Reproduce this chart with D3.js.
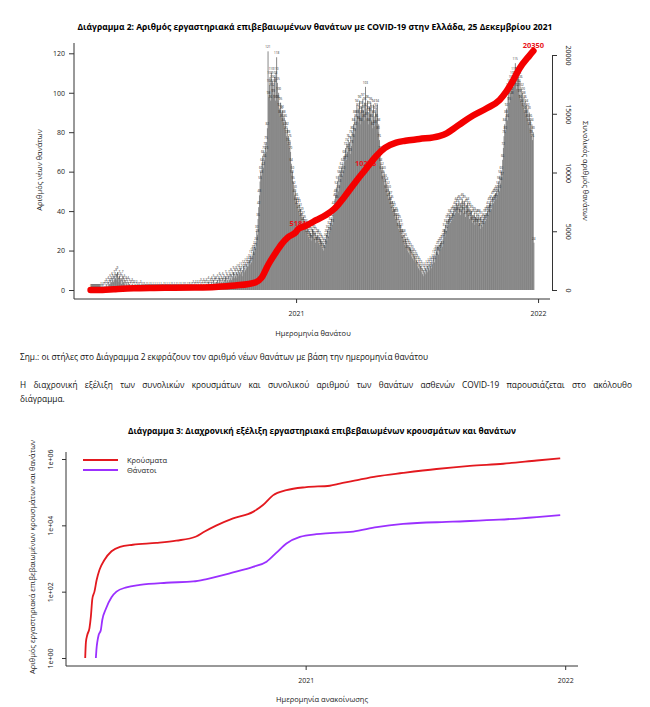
<!DOCTYPE html>
<html>
<head>
<meta charset="utf-8">
<script src="https://cdn.jsdelivr.net/npm/d3@7"></script>
<style>
  body { margin: 0; background: #fff; }
  svg text { font-family: "Open Sans", "Noto Sans", sans-serif; }
</style>
</head>
<body>
<div id="container"></div>
<script>
/* CONSTANTS AND GLOBALS */
const width = 650, height = 707;
const parseDate = d3.utcParse("%Y-%m-%d");

/* DATA */
// chart 2: daily new deaths by date of death, one value per day from barStart
const barStart = "2020-02-26";
const deaths2020 = [
  0,0,0,0, // Feb 26-29
  0,0,0,0,0,0,0,0,0,0,0,1,0,1,0,1,1,2,1,3,2,1,4,2,3,5,3,4,6,5,4, // Mar
  7,5,6,8,5,9,6,4,7,5,6,3,5,7,4,3,5,2,4,3,2,4,1,3,2,1,2,3,1,2, // Apr
  1,2,0,1,2,1,0,1,1,0,2,1,0,1,0,1,1,0,0,1,0,1,0,0,1,0,1,0,0,1,0, // May
  0,1,0,0,1,0,0,1,0,0,1,0,0,0,1,0,1,0,0,1,0,0,1,0,0,1,0,1,0,0, // Jun
  1,0,0,1,0,1,0,0,1,0,1,0,0,1,0,1,0,1,0,0,1,0,1,1,0,1,0,1,2,0,1, // Jul
  1,2,0,1,2,1,0,2,1,3,1,2,1,3,2,1,2,3,1,2,4,2,1,3,2,4,3,2,5,3,4, // Aug
  3,4,2,5,3,4,6,3,5,4,3,6,4,5,3,7,4,6,5,4,7,5,6,8,5,7,6,9,6,8, // Sep
  7,9,6,8,10,7,9,8,11,9,7,10,12,9,11,10,13,11,12,14,12,15,13,17,14,18,16,20,19,22,21, // Oct
  24,30,28,36,42,48,55,60,58,64,68,62,70,66,72,75,70,82,121,98,104,108,96,110,102,106,99,104,108,96, // Nov
  110,118,105,96,100,92,88,95,90,86,91,84,88,82,86,80,78,82,74,78,72,76,70,64,58,60,55,52,48,50,44 // Dec
];
const deaths2021 = [
  46,42,44,40,43,38,41,36,39,34,37,33,35,31,33,30,28,32,27,30,26,29,25,28,31,27,30,26,29,24,27, // Jan
  25,28,24,27,23,26,22,25,21,24,20,23,22,26,28,25,30,27,32,29,34,31,36,33,38,42,40,46, // Feb
  48,52,45,55,50,58,53,60,56,62,58,64,60,68,65,72,66,74,70,76,71,75,69,78,73,80,76,84,79,88,82, // Mar
  86,94,88,92,85,96,90,84,93,88,97,91,86,95,103,92,87,96,90,84,93,89,95,86,91,82,94,88,83,90, // Apr
  92,86,94,80,84,76,70,64,60,62,58,55,60,53,56,50,54,48,52,46,50,44,47,42,45,40,42,38,41,36,39, // May
  38,34,36,31,35,30,33,28,31,27,25,28,23,26,22,24,20,23,19,22,18,21,17,20,16,18,15,17,14,16, // Jun
  15,12,14,11,13,10,12,9,11,8,10,7,9,11,8,10,12,9,11,13,10,12,14,11,13,15,17,14,18,16,20, // Jul
  19,22,18,23,20,24,21,25,22,26,28,31,27,33,30,35,32,36,33,38,34,37,35,39,36,40,38,42,39,44,41, // Aug
  43,39,45,41,38,44,40,46,42,39,45,41,37,43,40,44,38,42,36,41,37,40,34,38,35,39,33,37,34,38, // Sep
  36,33,38,34,31,37,33,35,32,36,34,38,35,39,36,40,42,38,44,40,45,41,43,47,44,48,45,49,46,50,48, // Oct
  52,55,50,58,54,60,57,66,72,78,84,80,88,92,86,98,102,95,104,100,106,98,108,103,110,105,115,108,102,110, // Nov
  104,108,99,106,96,102,94,100,92,98,90,96,88,94,86,92,84,90,82,86,78,84,76,80,24 // Dec 1-25
];

// chart 2: total deaths (red line, right axis)
const totalDates = ["2020-02-26","2020-03-15","2020-04-01","2020-05-01","2020-06-01","2020-07-01","2020-08-01",
  "2020-09-01","2020-10-01","2020-11-01","2020-11-10","2020-11-20","2020-12-01","2020-12-10","2020-12-20",
  "2021-01-01","2021-01-04","2021-01-15","2021-02-01","2021-02-15","2021-03-01","2021-03-15","2021-04-01",
  "2021-04-16","2021-05-01","2021-05-15","2021-06-01","2021-06-15","2021-07-06","2021-08-05","2021-08-16",
  "2021-08-26","2021-09-10","2021-09-25","2021-10-15","2021-11-04","2021-11-14","2021-11-24","2021-12-04",
  "2021-12-19","2021-12-25"];
const totalValues = [0,5,60,145,175,190,210,260,380,650,1050,2150,3150,3900,4500,4950,5181,5450,5960,6380,
  6980,7940,9220,10276,11340,12100,12550,12700,12850,13100,13330,13700,14300,14850,15450,16170,16880,17800,
  18850,19950,20350];
const totalLabelDates = ["2021-01-04","2021-04-16","2021-12-25"];
const totalLabels = [5181, 10276, 20350];

const leftTicks = [0, 20, 40, 60, 80, 100, 120];
const rightTicks = [0, 5000, 10000, 15000, 20000];
const yearTicks = ["2021-01-01", "2022-01-01"];
const yearLabels = ["2021", "2022"];

// chart 3: cumulative cases and deaths by announcement date (log scale)
const caseDates = ["2020-02-26","2020-02-27","2020-02-29","2020-03-03","2020-03-05","2020-03-07","2020-03-10",
  "2020-03-13","2020-03-17","2020-03-24","2020-04-03","2020-04-15","2020-05-03","2020-06-05","2020-07-03",
  "2020-07-31","2020-08-12","2020-08-28","2020-09-21","2020-10-19","2020-11-02","2020-11-16","2020-12-05",
  "2021-01-02","2021-02-04","2021-02-18","2021-03-18","2021-04-11","2021-05-18","2021-07-04","2021-08-20",
  "2021-10-06","2021-11-22","2021-12-25"];
const caseValues = [1,3,5,8,18,60,100,220,450,900,1650,2250,2600,2950,3450,4600,6500,9800,16200,25500,41000,
  80000,115000,142000,156000,180000,240000,300000,380000,500000,620000,720000,900000,1050000];
const deathDates = ["2020-03-12","2020-03-13","2020-03-14","2020-03-16","2020-03-19","2020-03-21","2020-03-26",
  "2020-04-03","2020-04-10","2020-04-24","2020-05-13","2020-06-19","2020-07-27","2020-08-15","2020-09-21",
  "2020-10-19","2020-11-07","2020-11-21","2020-12-05","2020-12-24","2021-01-16","2021-02-04","2021-03-09",
  "2021-04-11","2021-05-18","2021-07-27","2021-09-30","2021-11-22","2021-12-25"];
const deathValues = [1,2,3,5,7,14,30,68,100,135,160,186,203,240,380,560,800,1500,2850,4500,5400,5800,6450,
  8800,11000,12900,14800,17800,20350];
const logTicks = [1, 100, 10000, 1000000];
const logLabels = ["1e+00", "1e+02", "1e+04", "1e+06"];
const seriesNames = ["Κρούσματα", "Θάνατοι"];

/* TEXTS */
const title2 = "Διάγραμμα 2: Αριθμός εργαστηριακά επιβεβαιωμένων θανάτων με COVID-19 στην Ελλάδα, 25 Δεκεμβρίου 2021";
const note = "Σημ.: οι στήλες στο Διάγραμμα 2 εκφράζουν τον αριθμό νέων θανάτων με βάση την ημερομηνία θανάτου";
const para1 = "Η διαχρονική εξέλιξη των συνολικών κρουσμάτων και συνολικού αριθμού των θανάτων ασθενών COVID-19 παρουσιάζεται στο ακόλουθο";
const para2 = "διάγραμμα.";
const title3 = "Διάγραμμα 3: Διαχρονική εξέλιξη εργαστηριακά επιβεβαιωμένων κρουσμάτων και θανάτων";

const svg = d3.select("#container").append("svg")
  .attr("width", width)
  .attr("height", height)
  .style("background-color", "#fff");

const axisColor = "#333";

/* ---------- CHART 2 ---------- */
const daily = deaths2020.concat(deaths2021).map((v, i) => ({
  date: d3.utcDay.offset(parseDate(barStart), i), value: v
}));

const x1 = d3.scaleUtc()
  .domain([parseDate("2020-02-01"), parseDate("2022-01-19")])
  .range([74, 550]);
const y1 = d3.scaleLinear().domain([0, 120]).range([290, 53.3]);
const y1r = d3.scaleLinear().domain([0, 20000]).range([290, 55]);

svg.append("text")
  .attr("x", 315).attr("y", 30)
  .attr("text-anchor", "middle")
  .attr("font-size", 9.5).attr("font-weight", "bold")
  .attr("textLength", 475).attr("lengthAdjust", "spacingAndGlyphs")
  .text(title2);

const dayW = x1(parseDate("2021-01-02")) - x1(parseDate("2021-01-01"));

// bars
svg.append("g").selectAll("rect")
  .data(daily)
  .join("rect")
  .attr("x", d => x1(d.date))
  .attr("y", d => y1(d.value))
  .attr("width", dayW + 0.25)
  .attr("height", d => y1(0) - y1(d.value))
  .attr("fill", "#7d7d7d");

// tiny value labels over every bar
svg.append("g").selectAll("text")
  .data(daily)
  .join("text")
  .attr("x", d => x1(d.date) + dayW / 2)
  .attr("y", d => y1(d.value) - 3)
  .attr("text-anchor", "middle")
  .attr("font-size", 3)
  .attr("fill", "#222")
  .text(d => d.value);

// red labels on the total line
svg.append("g").selectAll("text")
  .data(totalLabels)
  .join("text")
  .attr("x", (d, i) => x1(parseDate(totalLabelDates[i])))
  .attr("y", d => y1r(d) - 3)
  .attr("text-anchor", "middle")
  .attr("font-size", 7.5).attr("font-weight", "bold")
  .attr("fill", "#e8141a")
  .text(d => d);

// total deaths line
const totalLine = d3.line()
  .x((d, i) => x1(parseDate(totalDates[i])))
  .y(d => y1r(d))
  .curve(d3.curveMonotoneX);

svg.append("path")
  .attr("d", totalLine(totalValues))
  .attr("fill", "none")
  .attr("stroke", "#f40000")
  .attr("stroke-width", 6.5)
  .attr("stroke-linecap", "round")
  .attr("stroke-linejoin", "round");

// L box
svg.append("path")
  .attr("d", `M74,43V299H550`)
  .attr("fill", "none").attr("stroke", axisColor).attr("stroke-width", 1);

// left axis
const gL = svg.append("g")
  .attr("transform", "translate(74,0)")
  .call(d3.axisLeft(y1).tickValues(leftTicks).tickSize(5).tickPadding(4));
gL.select(".domain").remove();

// right axis
const gR = svg.append("g")
  .attr("transform", "translate(552,0)")
  .call(d3.axisRight(y1r).tickValues(rightTicks).tickSize(5).tickSizeOuter(0).tickFormat(d3.format("d")));
gR.selectAll(".tick text")
  .attr("x", 0).attr("dy", null)
  .attr("text-anchor", "middle")
  .attr("transform", "translate(14,0) rotate(90)");

// bottom axis
const gB = svg.append("g")
  .attr("transform", "translate(0,299)")
  .call(d3.axisBottom(x1).tickValues(yearTicks.map(parseDate)).tickSize(4).tickPadding(8)
    .tickFormat((d, i) => yearLabels[i]));
gB.select(".domain").remove();

[gL, gR, gB].forEach(g => {
  g.selectAll("line, path").attr("stroke", axisColor);
  g.selectAll("text").attr("font-size", 7).attr("fill", "#222")
    .style("font-family", '"Open Sans", sans-serif');
});

svg.append("text")
  .attr("transform", "translate(42,170) rotate(-90)")
  .attr("text-anchor", "middle").attr("font-size", 7.5).attr("fill", "#222")
  .text("Αριθμός νέων θανάτων");
svg.append("text")
  .attr("transform", "translate(583,171) rotate(90)")
  .attr("text-anchor", "middle").attr("font-size", 7.5).attr("fill", "#222")
  .text("Συνολικός αριθμός θανάτων");
svg.append("text")
  .attr("x", 313).attr("y", 336)
  .attr("text-anchor", "middle").attr("font-size", 7.5).attr("fill", "#222")
  .text("Ημερομηνία θανάτου");

/* ---------- DOCUMENT TEXT ---------- */
svg.append("text")
  .attr("x", 20).attr("y", 360)
  .attr("font-size", 8.3).attr("fill", "#111")
  .text(note);

const p1 = svg.append("text")
  .attr("x", 20).attr("y", 388)
  .attr("font-size", 8.3).attr("fill", "#111")
  .text(para1);
const natural = p1.node().getComputedTextLength();
const gaps = para1.split(" ").length - 1;
p1.attr("word-spacing", Math.max(0, (612 - natural) / gaps));

svg.append("text")
  .attr("x", 20).attr("y", 402)
  .attr("font-size", 8.3).attr("fill", "#111")
  .text(para2);

/* ---------- CHART 3 ---------- */
svg.append("text")
  .attr("x", 322).attr("y", 434)
  .attr("text-anchor", "middle")
  .attr("font-size", 9.5).attr("font-weight", "bold")
  .attr("textLength", 388).attr("lengthAdjust", "spacingAndGlyphs")
  .text(title3);

const x3 = d3.scaleUtc()
  .domain([parseDate("2020-01-30"), parseDate("2022-01-19")])
  .range([66, 578]);
const y3 = d3.scaleLog().domain([1, 1e6]).range([658, 459]);

const logLine = dates => d3.line()
  .x((d, i) => x3(parseDate(dates[i])))
  .y(d => y3(d))
  .curve(d3.curveMonotoneX);

const colors = ["#e3191f", "#9b30ff"];

svg.append("path")
  .attr("d", logLine(caseDates)(caseValues))
  .attr("fill", "none").attr("stroke", colors[0]).attr("stroke-width", 1.8);
svg.append("path")
  .attr("d", logLine(deathDates)(deathValues))
  .attr("fill", "none").attr("stroke", colors[1]).attr("stroke-width", 1.8);

svg.append("path")
  .attr("d", `M66,452V666H578`)
  .attr("fill", "none").attr("stroke", axisColor).attr("stroke-width", 1);

const gL3 = svg.append("g")
  .attr("transform", "translate(66,0)")
  .call(d3.axisLeft(y3).tickValues(logTicks).tickSize(4).tickFormat((d, i) => logLabels[i]));
gL3.select(".domain").remove();
gL3.selectAll(".tick text")
  .attr("x", 0).attr("dy", null)
  .attr("text-anchor", "middle")
  .attr("transform", "translate(-13,0) rotate(-90)");

const gB3 = svg.append("g")
  .attr("transform", "translate(0,666)")
  .call(d3.axisBottom(x3).tickValues(yearTicks.map(parseDate)).tickSize(4).tickPadding(8)
    .tickFormat((d, i) => yearLabels[i]));
gB3.select(".domain").remove();

[gL3, gB3].forEach(g => {
  g.selectAll("line, path").attr("stroke", axisColor);
  g.selectAll("text").attr("font-size", 7).attr("fill", "#222")
    .style("font-family", '"Open Sans", sans-serif');
});

svg.append("text")
  .attr("transform", "translate(35,557) rotate(-90)")
  .attr("text-anchor", "middle").attr("font-size", 7.5).attr("fill", "#222")
  .text("Αριθμός εργαστηριακά επιβεβαιωμένων κρουσμάτων και θανάτων");
svg.append("text")
  .attr("x", 322).attr("y", 702)
  .attr("text-anchor", "middle").attr("font-size", 7.5).attr("fill", "#222")
  .text("Ημερομηνία ανακοίνωσης");

// legend
const legend = svg.append("g").selectAll("g")
  .data(seriesNames)
  .join("g")
  .attr("transform", (d, i) => `translate(83,${460 + i * 10})`);
legend.append("line")
  .attr("x1", 0).attr("x2", 35)
  .attr("stroke", (d, i) => colors[i]).attr("stroke-width", 1.8);
legend.append("text")
  .attr("x", 44).attr("dy", "0.35em")
  .attr("font-size", 7.5).attr("fill", "#222")
  .text(d => d);
</script>
</body>
</html>
